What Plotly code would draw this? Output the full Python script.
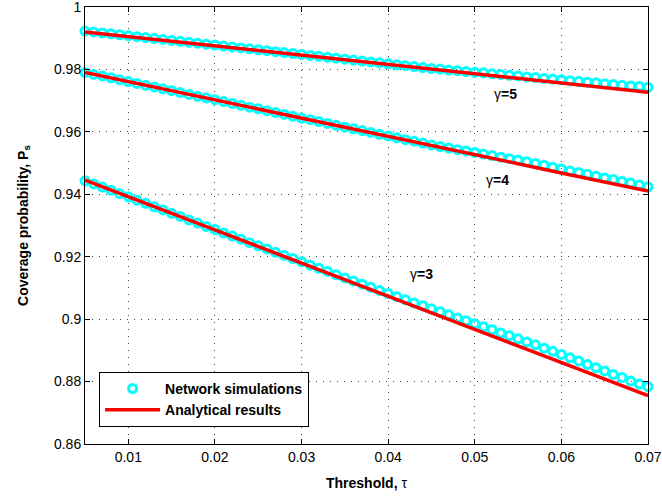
import plotly.graph_objects as go

# Threshold values used by the network simulations (tau = 0.005 ... 0.07)
tau_sim = [0.005, 0.006, 0.007, 0.008, 0.009, 0.010, 0.011, 0.012, 0.013, 0.014,
           0.015, 0.016, 0.017, 0.018, 0.019, 0.020, 0.021, 0.022, 0.023, 0.024,
           0.025, 0.026, 0.027, 0.028, 0.029, 0.030, 0.031, 0.032, 0.033, 0.034,
           0.035, 0.036, 0.037, 0.038, 0.039, 0.040, 0.041, 0.042, 0.043, 0.044,
           0.045, 0.046, 0.047, 0.048, 0.049, 0.050, 0.051, 0.052, 0.053, 0.054,
           0.055, 0.056, 0.057, 0.058, 0.059, 0.060, 0.061, 0.062, 0.063, 0.064,
           0.065, 0.066, 0.067, 0.068, 0.069, 0.070]

# Simulated coverage probability for path-loss exponents 5, 4, 3
sim_g5 = [0.9923, 0.9920, 0.9917, 0.9914, 0.9911, 0.9908, 0.9905, 0.9902, 0.9899, 0.9896,
          0.9893, 0.9890, 0.9887, 0.9884, 0.9881, 0.9878, 0.9875, 0.9872, 0.9869, 0.9866,
          0.9863, 0.9860, 0.9857, 0.9854, 0.9851, 0.9848, 0.9845, 0.9842, 0.9839, 0.9836,
          0.9833, 0.9830, 0.9827, 0.9824, 0.9821, 0.9818, 0.9815, 0.9812, 0.9809, 0.9806,
          0.9803, 0.9801, 0.9798, 0.9796, 0.9793, 0.9791, 0.9789, 0.9786, 0.9784, 0.9781,
          0.9779, 0.9776, 0.9774, 0.9771, 0.9769, 0.9767, 0.9764, 0.9762, 0.9759, 0.9757,
          0.9754, 0.9752, 0.9749, 0.9747, 0.9745, 0.9743]

sim_g4 = [0.9790, 0.9784, 0.9779, 0.9773, 0.9767, 0.9761, 0.9755, 0.9749, 0.9744, 0.9738,
          0.9732, 0.9726, 0.9720, 0.9714, 0.9709, 0.9703, 0.9697, 0.9691, 0.9685, 0.9679,
          0.9674, 0.9668, 0.9662, 0.9656, 0.9650, 0.9644, 0.9639, 0.9633, 0.9627, 0.9621,
          0.9615, 0.9610, 0.9604, 0.9598, 0.9592, 0.9587, 0.9581, 0.9575, 0.9570, 0.9564,
          0.9558, 0.9553, 0.9548, 0.9543, 0.9539, 0.9534, 0.9529, 0.9524, 0.9519, 0.9514,
          0.9510, 0.9504, 0.9499, 0.9493, 0.9487, 0.9481, 0.9475, 0.9470, 0.9464, 0.9458,
          0.9452, 0.9447, 0.9441, 0.9436, 0.9430, 0.9424]

sim_g3 = [0.9443, 0.9433, 0.9423, 0.9413, 0.9402, 0.9392, 0.9381, 0.9371, 0.9360, 0.9350,
          0.9339, 0.9329, 0.9318, 0.9308, 0.9297, 0.9287, 0.9276, 0.9266, 0.9256, 0.9245,
          0.9235, 0.9225, 0.9214, 0.9204, 0.9194, 0.9184, 0.9173, 0.9163, 0.9153, 0.9142,
          0.9132, 0.9122, 0.9112, 0.9102, 0.9092, 0.9082, 0.9072, 0.9062, 0.9052, 0.9043,
          0.9033, 0.9024, 0.9014, 0.9004, 0.8995, 0.8985, 0.8976, 0.8966, 0.8956, 0.8947,
          0.8937, 0.8927, 0.8918, 0.8907, 0.8897, 0.8887, 0.8876, 0.8866, 0.8855, 0.8844,
          0.8834, 0.8823, 0.8813, 0.8802, 0.8792, 0.8784]

# Analytical coverage probability
tau_ana = [0.005, 0.010, 0.015, 0.020, 0.025, 0.030, 0.035,
           0.040, 0.045, 0.050, 0.055, 0.060, 0.065, 0.070]
ana_g5 = [0.9920, 0.9905, 0.9890, 0.9875, 0.9861, 0.9846, 0.9831,
          0.9816, 0.9801, 0.9786, 0.9771, 0.9757, 0.9742, 0.9727]
ana_g4 = [0.9790, 0.9761, 0.9732, 0.9702, 0.9673, 0.9644, 0.9615,
          0.9585, 0.9556, 0.9527, 0.9498, 0.9468, 0.9439, 0.9410]
ana_g3 = [0.9445, 0.9392, 0.9339, 0.9286, 0.9233, 0.9180, 0.9126,
          0.9073, 0.9020, 0.8967, 0.8914, 0.8861, 0.8808, 0.8755]

curve_labels = ["γ<b>=5</b>", "γ<b>=4</b>", "γ<b>=3</b>"]
label_pos = [(0.0536, 0.9721), (0.0526, 0.9446), (0.0438, 0.9144)]

x_ticks = [0.01, 0.02, 0.03, 0.04, 0.05, 0.06, 0.07]
x_ticktext = ["0.01", "0.02", "0.03", "0.04", "0.05", "0.06", "0.07"]
y_ticks = [0.86, 0.88, 0.90, 0.92, 0.94, 0.96, 0.98, 1.0]
y_ticktext = ["0.86", "0.88", "0.9", "0.92", "0.94", "0.96", "0.98", "1"]

FONT = "Liberation Sans, Arial, sans-serif"
CYAN = "#00FFFF"
RED = "#FF0000"

fig = go.Figure()

for i, ys in enumerate([sim_g5, sim_g4, sim_g3]):
    fig.add_trace(go.Scatter(
        x=tau_sim, y=ys, mode="markers",
        name="Network simulations", legendgroup="sim", showlegend=(i == 0),
        marker=dict(symbol="circle-open", size=8, color=CYAN,
                    line=dict(color=CYAN, width=3)),
        cliponaxis=False,
    ))

for i, ys in enumerate([ana_g5, ana_g4, ana_g3]):
    fig.add_trace(go.Scatter(
        x=tau_ana, y=ys, mode="lines",
        name="Analytical results", legendgroup="ana", showlegend=(i == 0),
        line=dict(color=RED, width=3.5),
    ))

for text, (xv, yv) in zip(curve_labels, label_pos):
    fig.add_annotation(x=xv, y=yv, xref="x", yref="y", text=text,
                       showarrow=False, font=dict(family=FONT, size=14, color="black"))

axis_common = dict(
    showline=True, linecolor="black", linewidth=1, mirror="ticks",
    ticks="inside", ticklen=5, tickcolor="black", tickwidth=1,
    showgrid=True, gridcolor="#444444", gridwidth=1, griddash="1px,6px",
    zeroline=False, ticklabeloverflow="allow", automargin=False,
    tickfont=dict(family=FONT, size=14, color="black"),
)

fig.update_xaxes(
    range=[0.005, 0.07], tickvals=x_ticks, ticktext=x_ticktext,
    title=dict(text="<b>Threshold, </b>τ", font=dict(family=FONT, size=14, color="black"),
               standoff=14),
    **axis_common,
)
fig.update_yaxes(
    range=[0.86, 1.0], tickvals=y_ticks, ticktext=y_ticktext,
    title=dict(text="<b>Coverage probability, P<sub>s</sub></b>",
               font=dict(family=FONT, size=14, color="black"), standoff=22),
    **axis_common,
)

fig.update_layout(
    width=662, height=498,
    margin=dict(l=85, r=14, t=7, b=54),
    paper_bgcolor="white", plot_bgcolor="white",
    font=dict(family=FONT, size=14, color="black"),
    legend=dict(
        x=0.025, y=0.165, xanchor="left", yanchor="top",
        bgcolor="white", bordercolor="black", borderwidth=1,
        font=dict(family=FONT, size=14, color="black", weight="bold"),
        itemwidth=55, tracegroupgap=0,
    ),
    showlegend=True,
)

fig.write_html("out.html")
